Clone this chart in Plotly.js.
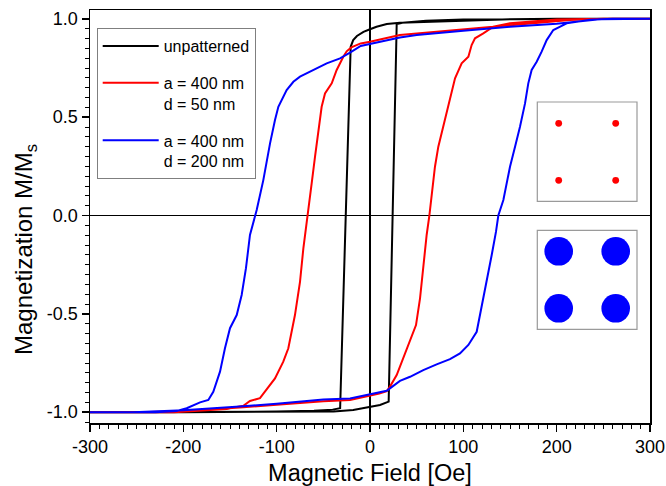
<!DOCTYPE html>
<html>
<head>
<meta charset="utf-8">
<script src="https://cdn.plot.ly/plotly-3.0.1.min.js"></script>
<style>html,body{margin:0;padding:0;background:#fff;}#chart{width:666px;height:486px;}</style>
</head>
<body>
<div id="chart"></div>
<script>
// ---- data ----
const seriesNames = ["unpatterned", "a = 400 nm<br>d = 50 nm", "a = 400 nm<br>d = 200 nm"];
const xTitle = "Magnetic Field [Oe]";
const yTitle = "Magnetization M/M<sub>s</sub>";

// unpatterned film: descending branch then ascending branch
const blackH = [300, 250, 200, 150, 100, 60, 32, 18, 7, 0, -7, -14, -18, -20.7, -32, -40, -60, -100, -150, -200, -300,
                -300, -200, -110, -60, -39, -18, 0, 10.7, 20, 28.6, 35, 45, 60, 100, 150, 200, 300];
const blackM = [1.0, 1.0, 1.0, 0.998, 0.99, 0.986, 0.98, 0.974, 0.96, 0.947, 0.934, 0.913, 0.892, 0.858, -0.98, -0.987, -0.993, -0.997, -1.0, -1.0, -1.0,
                -1.0, -1.0, -1.0, -0.999, -0.997, -0.989, -0.975, -0.963, -0.946, 0.974, 0.98, 0.985, 0.99, 0.997, 1.0, 1.0, 1.0];

// a = 400 nm, d = 50 nm
const redH = [300, 250, 214, 150, 100, 50, 32, 0, -10, -20, -25, -28.6, -35.7, -41, -48.2, -51.8, -55.4, -58.9, -62.5, -66.1, -71.4, -75, -80.4, -87.5, -92.9, -101.8, -110.7, -117.9, -128.6, -135.7, -153.5, -180, -210, -250, -300,
              -300, -250, -200, -182, -150, -135.7, -100, -75, -50, -21.4, -3.6, 10, 18, 21.4, 28.6, 35.7, 42.9, 49.3, 53.6, 57.1, 60.7, 63.6, 66.1, 69.6, 73.2, 78.6, 85.7, 91.1, 98.2, 105.4, 108.9, 112.5, 121.4, 132.1, 150, 180, 200, 250, 300];
const redM = [1.0, 1.0, 0.994, 0.967, 0.946, 0.925, 0.918, 0.884, 0.875, 0.855, 0.835, 0.807, 0.74, 0.672, 0.621, 0.553, 0.435, 0.299, 0.164, 0.028, -0.167, -0.337, -0.506, -0.675, -0.743, -0.828, -0.887, -0.929, -0.943, -0.967, -0.984, -0.993, -1.0, -1.0, -1.0,
              -1.0, -1.0, -0.995, -0.99, -0.98, -0.975, -0.962, -0.953, -0.945, -0.938, -0.92, -0.905, -0.893, -0.87, -0.811, -0.726, -0.642, -0.557, -0.421, -0.252, -0.099, 0.0, 0.113, 0.248, 0.35, 0.451, 0.587, 0.698, 0.774, 0.807, 0.867, 0.901, 0.926, 0.96, 0.978, 0.99, 0.997, 1.0, 1.0];

// a = 400 nm, d = 200 nm
const blueH = [300, 260, 246, 200, 150, 100, 50, 32, 0, -10, -21.4, -32.1, -46.4, -60.7, -75, -82.1, -89.3, -98.2, -101.8, -107.1, -114.3, -121.4, -128.6, -132.9, -137.5, -142.8, -150, -155.4, -160.7, -167.9, -173.2, -182.1, -191, -196.4, -207, -230, -300,
               -300, -254, -200, -182, -135.7, -100, -75, -50, -21.4, -3.6, 10, 17.9, 21.4, 32.1, 42.9, 57.1, 71.4, 85.7, 96.4, 105.4, 114.3, 117.9, 123.2, 126.8, 130.4, 135, 137.5, 142.9, 150, 155.4, 160.7, 166.1, 169.6, 173.2, 178.6, 183.9, 189.3, 196.4, 210.7, 236, 260, 300];
const blueM = [1.0, 1.0, 0.998, 0.975, 0.96, 0.94, 0.918, 0.905, 0.875, 0.862, 0.828, 0.799, 0.774, 0.74, 0.706, 0.68, 0.638, 0.553, 0.486, 0.367, 0.18, 0.028, -0.099, -0.268, -0.404, -0.506, -0.573, -0.675, -0.794, -0.896, -0.938, -0.95, -0.967, -0.98, -0.994, -1.0, -1.0,
               -1.0, -1.0, -0.99, -0.985, -0.97, -0.957, -0.947, -0.935, -0.93, -0.913, -0.9, -0.891, -0.879, -0.841, -0.82, -0.786, -0.757, -0.73, -0.701, -0.658, -0.591, -0.506, -0.37, -0.302, -0.201, -0.082, 0.0, 0.079, 0.248, 0.35, 0.451, 0.57, 0.672, 0.74, 0.782, 0.833, 0.892, 0.943, 0.977, 0.995, 1.0, 1.0];

const xTickVals = [-300, -200, -100, 0, 100, 200, 300];
const xTickText = ["-300", "-200", "-100", "0", "100", "200", "300"];
const yTickVals = [-1.0, -0.5, 0.0, 0.5, 1.0];
const yTickText = ["-1.0", "-0.5", "0.0", "0.5", "1.0"];

// ---- layout helpers ----
const W = 666, H = 486;
const M = {l: 90, r: 16, t: 10, b: 63};
const PW = W - M.l - M.r, PH = H - M.t - M.b;
const px = v => (v - M.l) / PW;
const py = v => (H - M.b - v) / PH;
const FONT = "Arial, 'Liberation Sans', sans-serif";

const shapes = [];
function box(x0, y0, x1, y1) {
  shapes.push({type: 'rect', xref: 'paper', yref: 'paper', x0: px(x0), x1: px(x1), y0: py(y1), y1: py(y0),
    line: {color: '#9a9a9a', width: 1.2}, fillcolor: 'rgba(0,0,0,0)', layer: 'above'});
}
function dot(cx, cy, r, color) {
  shapes.push({type: 'circle', xref: 'paper', yref: 'paper', x0: px(cx - r), x1: px(cx + r), y0: py(cy + r), y1: py(cy - r),
    line: {width: 0}, fillcolor: color, layer: 'above'});
}
box(537.3, 102, 637, 201.3);
box(537.3, 230.3, 637, 329.3);
[[558.7, 123.3], [615.7, 123.3], [558.7, 180.3], [615.7, 180.3]].forEach(p => dot(p[0], p[1], 3.4, '#ff0000'));
[[558.7, 251.3], [615.7, 251.3], [558.7, 308.3], [615.7, 308.3]].forEach(p => dot(p[0], p[1], 14.3, '#0000ff'));

const traces = [
  {x: blackH, y: blackM, name: seriesNames[0], legendgroup: 'g1', mode: 'lines', line: {color: '#000000', width: 2}},
  {x: redH, y: redM, name: seriesNames[1], legendgroup: 'g2', mode: 'lines', line: {color: '#ff0000', width: 2}},
  {x: blueH, y: blueM, name: seriesNames[2], legendgroup: 'g3', mode: 'lines', line: {color: '#0000ff', width: 2}}
];

const layout = {
  width: W, height: H,
  margin: M,
  paper_bgcolor: '#ffffff', plot_bgcolor: '#ffffff',
  font: {family: FONT, color: '#000000', size: 18},
  showlegend: true,
  legend: {x: px(96.7), y: py(28), xanchor: 'left', yanchor: 'top', bgcolor: '#ffffff',
           bordercolor: '#7f7f7f', borderwidth: 1, font: {family: FONT, size: 16, color: '#000'},
           valign: 'top', itemwidth: 56, tracegroupgap: 13},
  xaxis: {range: [-300, 300], tickvals: xTickVals, ticktext: xTickText, ticks: 'outside', ticklen: 7, tickwidth: 1.5,
          tickcolor: '#000', showline: true, linecolor: '#000', linewidth: 1.5, mirror: true, showgrid: false,
          zeroline: true, zerolinecolor: '#000', zerolinewidth: 1.5, tickfont: {size: 18},
          minor: {dtick: 10, ticks: 'outside', ticklen: 4, tickwidth: 1, tickcolor: '#000', showgrid: false},
          title: {text: xTitle, font: {size: 23.5}, standoff: 10}, automargin: false},
  yaxis: {range: [-1.055, 1.045], tickvals: yTickVals, ticktext: yTickText, ticks: 'outside', ticklen: 7, tickwidth: 1.5,
          tickcolor: '#000', showline: true, linecolor: '#000', linewidth: 1.5, mirror: true, showgrid: false,
          zeroline: true, zerolinecolor: '#000', zerolinewidth: 1.5, tickfont: {size: 18},
          minor: {dtick: 0.05, ticks: 'outside', ticklen: 4, tickwidth: 1, tickcolor: '#000', showgrid: false},
          automargin: false},
  annotations: [
    {text: yTitle, xref: 'paper', yref: 'paper', x: px(25), y: py(250), xanchor: 'center', yanchor: 'middle',
     textangle: -90, showarrow: false, font: {family: FONT, size: 24, color: '#000'}}
  ],
  shapes: shapes
};

Plotly.newPlot('chart', traces, layout, {staticPlot: true, displayModeBar: false});
</script>
</body>
</html>
